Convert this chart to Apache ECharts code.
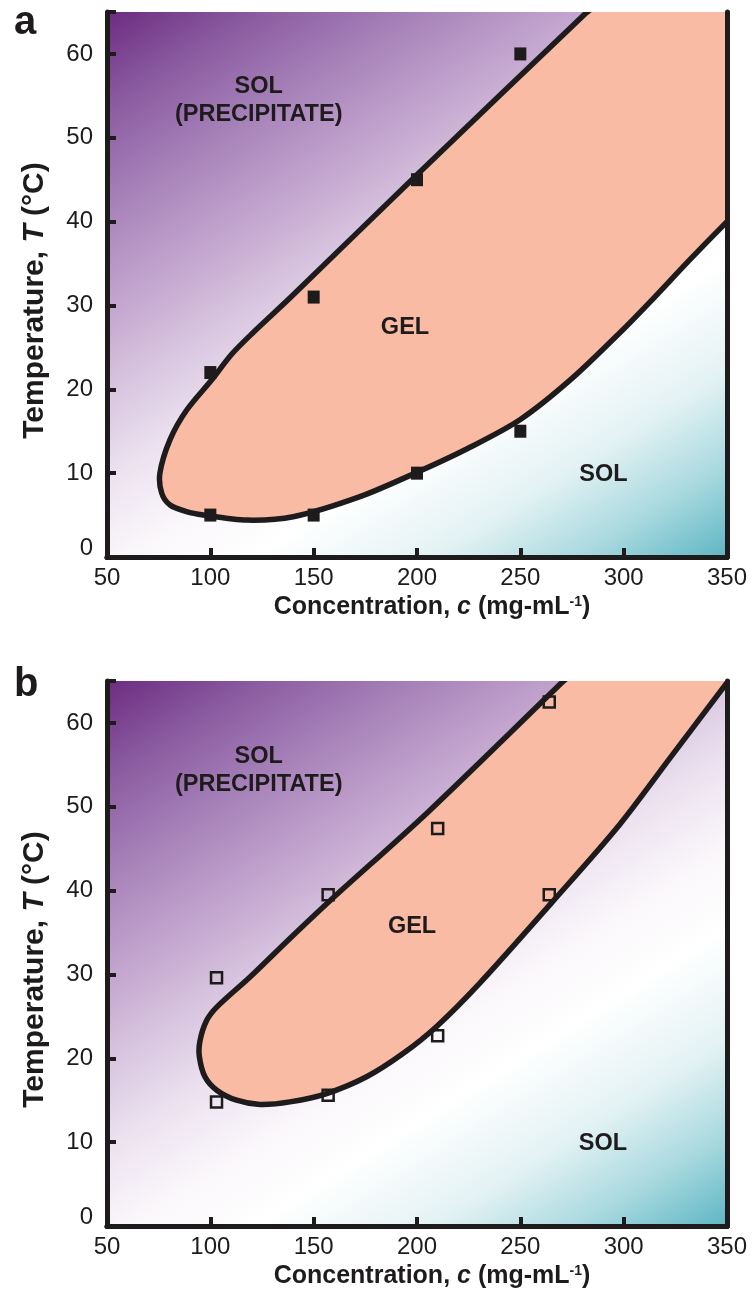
<!DOCTYPE html>
<html><head><meta charset="utf-8">
<script src="https://cdn.jsdelivr.net/npm/echarts@6/dist/echarts.min.js"></script>
<style>html,body{margin:0;padding:0;background:#fff}#chart{width:754px;height:1300px}</style>
</head><body><div id="chart"></div>
<script>
// ---- axes ----
const xTicks = [50, 100, 150, 200, 250, 300, 350];
const yTicks = [0, 10, 20, 30, 40, 50, 60];
const yMax = 65;

// ---- panel a (filled squares) ----
const concA = [100, 150, 200, 250];
const upperTempA = [22, 31, 45, 60];
const lowerTempA = [5, 5, 10, 15];
const gelOutlineA = [
  [291, 67], [281, 64.7], [200, 45.6], [139, 31.0], [120, 26.6], [110, 24.1],
  [100.6, 21.1], [88.5, 17.5], [80.5, 14.0], [75.6, 10.0], [76.5, 7.6], [80.5, 6.2],
  [88.5, 5.4], [96.6, 5.0], [117.6, 4.4], [140.1, 4.8], [172.4, 7.2], [200, 10.1],
  [225, 13.0], [250, 16.4], [275, 21.3], [300, 27.2], [315, 31.0], [331, 35.2],
  [350, 40.0], [356, 41.4], [362, 70], [291, 70]
];
const regionLabelsA = [[123.4, 54.4, 'SOL\n(PRECIPITATE)'], [194.2, 27.4, 'GEL'], [290.2, 9.8, 'SOL']];

// ---- panel b (open squares) ----
const concB = [103, 157, 210, 264];
const upperTempB = [29.6, 39.5, 47.4, 62.5];
const lowerTempB = [14.8, 15.6, 22.7, 39.5];
const gelOutlineB = [
  [279.4, 67], [270, 64.8], [205, 49.3], [157.9, 38.8], [138.5, 34.3], [119.2, 29.7],
  [103.1, 26.1], [98.2, 24.5], [95, 22.1], [94.7, 20.2], [97.4, 17.8], [103.1, 16.2],
  [112.7, 15.0], [124, 14.5], [138.5, 14.8], [156.3, 15.8], [175.6, 17.8], [193.4, 20.6],
  [209.5, 23.8], [230.5, 29.0], [265.3, 38.6], [297.8, 47.8], [323.3, 56.1], [350, 64.8],
  [356, 66.8], [362, 70], [279.4, 70]
];
const regionLabelsB = [[123.4, 54.3, 'SOL\n(PRECIPITATE)'], [197.6, 35.7, 'GEL'], [290, 9.8, 'SOL']];

const INK = '#1e1b1c';
const FONT = "'Liberation Sans', Arial, Helvetica, sans-serif";
const bg = {
  type: 'linear', x: 0, y: 0, x2: 0.68, y2: 1.23,
  colorStops: [
    { offset: 0, color: '#6c2c80' },
    { offset: 0.1, color: '#8a5aa0' },
    { offset: 0.2, color: '#a47fb7' },
    { offset: 0.3, color: '#bf9fcb' },
    { offset: 0.4, color: '#d6c2de' },
    { offset: 0.5, color: '#ece2f0' },
    { offset: 0.6, color: '#fbf8fb' },
    { offset: 0.68, color: '#ffffff' },
    { offset: 0.8, color: '#e3f2f4' },
    { offset: 0.9, color: '#a9d9df' },
    { offset: 1, color: '#5db6c3' }
  ]
};

const grids = [
  { left: 107, top: 12, width: 620, height: 545, show: true, backgroundColor: bg, borderWidth: 0 },
  { left: 107, top: 681, width: 620, height: 545, show: true, backgroundColor: bg, borderWidth: 0 }
];

const xAxes = [], yAxes = [];
for (let g = 0; g < 2; g++) {
  xAxes.push({
    gridIndex: g, type: 'value', position: 'bottom', z: 5,
    min: xTicks[0], max: xTicks[xTicks.length - 1], interval: xTicks[1] - xTicks[0],
    splitLine: { show: false },
    axisLine: { lineStyle: { color: INK, width: 5 } },
    axisTick: { inside: true, length: 9, lineStyle: { color: INK, width: 4 } },
    axisLabel: { margin: 9, fontSize: 24, color: INK, fontFamily: FONT },
    name: 'Concentration, {i|c} (mg-mL{s|-1})', nameLocation: 'middle', nameGap: 38,
    nameTextStyle: {
      fontSize: 25, fontWeight: 'bold', color: INK, fontFamily: FONT, padding: [0, 0, 0, 30],
      rich: {
        i: { fontSize: 25, fontWeight: 'bold', fontStyle: 'italic', color: INK, fontFamily: FONT },
        s: { fontSize: 14, fontWeight: 'bold', color: INK, fontFamily: FONT, verticalAlign: 'top', padding: [0, 0, 10, 0] }
      }
    }
  });
  xAxes.push({
    gridIndex: g, type: 'value', position: 'top', z: 5,
    min: xTicks[0], max: xTicks[xTicks.length - 1],
    splitLine: { show: false }, axisTick: { show: false }, axisLabel: { show: false },
    axisLine: { lineStyle: { color: INK, width: 5 } }
  });
  yAxes.push({
    gridIndex: g, type: 'value', position: 'left', z: 5,
    min: yTicks[0], max: yMax, interval: yTicks[1] - yTicks[0],
    splitLine: { show: false },
    axisLine: { lineStyle: { color: INK, width: 5 } },
    axisTick: { inside: true, length: 9, lineStyle: { color: INK, width: 4 } },
    axisLabel: {
      margin: 14, fontSize: 24, color: INK, fontFamily: FONT,
      formatter: v => (v === 0 ? '{z|0}' : (yTicks.indexOf(v) >= 0 ? String(v) : '')),
      rich: { z: { fontSize: 24, color: INK, fontFamily: FONT, padding: [0, 0, 18, 0] } }
    },
    name: 'Temperature, {i|T} (°C)', nameLocation: 'middle', nameGap: 57,
    nameTextStyle: {
      fontSize: 30, fontWeight: 'bold', color: INK, fontFamily: FONT, padding: [0, 32, 0, 0],
      rich: { i: { fontSize: 30, fontWeight: 'bold', fontStyle: 'italic', color: INK, fontFamily: FONT } }
    }
  });
  yAxes.push({
    gridIndex: g, type: 'value', position: 'right', z: 5,
    min: yTicks[0], max: yMax,
    splitLine: { show: false }, axisTick: { show: false }, axisLabel: { show: false },
    axisLine: { lineStyle: { color: INK, width: 5 } }
  });
}

function gelSeries(outline, g) {
  return {
    type: 'custom', xAxisIndex: 2 * g, yAxisIndex: 2 * g, clip: true, z: 2, silent: true,
    data: outline,
    encode: { x: 0, y: 1 },
    renderItem: function (params, api) {
      if (params.dataIndex !== 0) return null;
      const pts = outline.map(p => api.coord(p));
      return {
        type: 'polygon',
        shape: { points: pts, smooth: 0.3 },
        style: { fill: '#f9bba3', stroke: INK, lineWidth: 5.5, lineJoin: 'round' }
      };
    }
  };
}

function pointsSeries(conc, upper, lower, g, open) {
  const data = [];
  conc.forEach((c, i) => { data.push([c, upper[i]]); data.push([c, lower[i]]); });
  return {
    type: 'scatter', xAxisIndex: 2 * g, yAxisIndex: 2 * g, z: 4, silent: true,
    symbol: 'rect', symbolSize: open ? 11 : [12, 13],
    itemStyle: open
      ? { color: 'rgba(0,0,0,0)', borderColor: INK, borderWidth: 2.5, opacity: 1 }
      : { color: INK, opacity: 1 },
    data: data
  };
}

function labelSeries(labels, g) {
  return {
    type: 'scatter', xAxisIndex: 2 * g, yAxisIndex: 2 * g, z: 6, silent: true,
    symbolSize: 0, itemStyle: { opacity: 1 },
    data: labels.map(l => ({ value: [l[0], l[1]], name: l[2] })),
    label: {
      show: true, position: 'inside', formatter: '{b}', opacity: 1,
      fontSize: 23.5, fontWeight: 'bold', color: INK, fontFamily: FONT, lineHeight: 28, align: 'center'
    }
  };
}

const option = {
  animation: false,
  backgroundColor: '#ffffff',
  grid: grids,
  xAxis: xAxes,
  yAxis: yAxes,
  series: [
    gelSeries(gelOutlineA, 0),
    pointsSeries(concA, upperTempA, lowerTempA, 0, false),
    labelSeries(regionLabelsA, 0),
    gelSeries(gelOutlineB, 1),
    pointsSeries(concB, upperTempB, lowerTempB, 1, true),
    labelSeries(regionLabelsB, 1)
  ],
  graphic: [
    { type: 'text', left: 14, top: 3, style: { text: 'a', fontSize: 40, fontWeight: 'bold', fill: INK, fontFamily: FONT } },
    { type: 'text', left: 14, top: 665, style: { text: 'b', fontSize: 40, fontWeight: 'bold', fill: INK, fontFamily: FONT } }
  ]
};

const chart = echarts.init(document.getElementById('chart'), null, { renderer: 'canvas' });
chart.setOption(option);
</script>
</body></html>
